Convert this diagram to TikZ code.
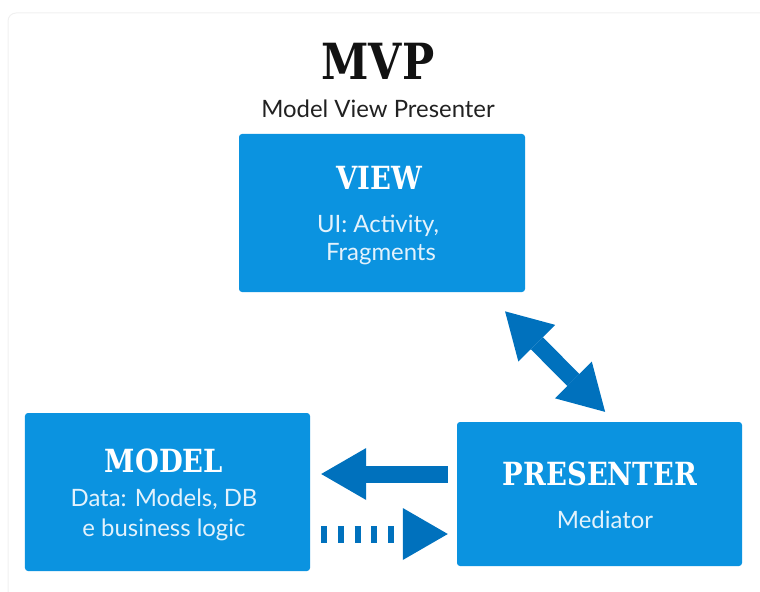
\documentclass[tikz,border=0pt]{standalone}
\usepackage{fontspec}
\setmainfont{Lato}
\newfontfamily\slabfont{DejaVu Serif}[FakeStretch=0.86]
\usetikzlibrary{arrows.meta, positioning}

\definecolor{boxblue}{HTML}{0B93E0}
\definecolor{arrowblue}{HTML}{0071BD}
\definecolor{bodywhite}{HTML}{E3F2FC}
\definecolor{framegray}{HTML}{F0F0F0}

\begin{document}
\begin{tikzpicture}[x=1bp, y=-1bp,
    box/.style = {fill=boxblue, rounded corners=3bp, inner sep=0pt},
    heading/.style = {anchor=base, text=white, font=\slabfont\bfseries\fontsize{32}{32}\selectfont},
    bodytext/.style = {anchor=base, text=bodywhite, font=\fontsize{24}{28}\selectfont},
    fatarrow/.style =
         {
             draw=arrowblue, line width=17bp,
             >={Triangle[length=45bp, width=52bp, line width=0pt 0]}
         }]
      \useasboundingbox (0,0) rectangle (760,592);
      \draw[framegray, line width=1bp, rounded corners=8bp] (8,13) rectangle (800,640);

      % title
      \node[anchor=base, text=black!93, font=\slabfont\bfseries\fontsize{50}{50}\selectfont] (title) at (378,80) {MVP};
      \node[anchor=base, text=black!87, font=\fontsize{24}{28}\selectfont] (subtitle) at (378,118) {Model View Presenter};

      % the three boxes
      \node[box, minimum width=286bp, minimum height=158bp] (view) at (382,213) {};
      \node[box, minimum width=285bp, minimum height=158bp] (model) at (167.5,492) {};
      \node[box, minimum width=285bp, minimum height=144bp] (presenter) at (599.5,494) {};

      \node[heading] (viewhead) at (379,190) {VIEW};
      \node[bodytext] (viewline1) at (378,232) {UI: Activity,};
      \node[bodytext] (viewline2) at (381,260) {Fragments};

      \node[heading] (modelhead) at (164,472) {MODEL};
      \node[bodytext] (modelline1) at (164,506) {Data: Models, DB};
      \node[bodytext] (modelline2) at (164,536) {e business logic};

      \node[heading] (presenterhead) at (600,485) {PRESENTER};
      \node[bodytext] (presenterline) at (605,528) {Mediator};

      % connectors
      \draw[fatarrow, <->, shorten <=27bp, shorten >=14bp]
        ([xshift=104bp]view.south) -- ([xshift=15.5bp]presenter.north);
      \draw[fatarrow, ->, shorten <=9bp, shorten >=11bp]
        ([yshift=20bp]presenter.west) -- ([yshift=20bp]presenter.west -| model.east);
      \draw[fatarrow, ->, dash pattern=on 6bp off 10.75bp, shorten <=11bp, shorten >=9bp]
        ([yshift=-40bp]model.east |- presenter.west) -- ([yshift=-40bp]presenter.west);
    \end{tikzpicture}
\end{document}
